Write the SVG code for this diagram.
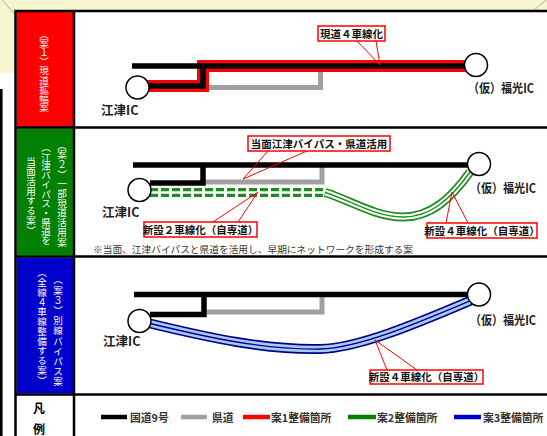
<svg xmlns="http://www.w3.org/2000/svg" width="547" height="436" viewBox="0 0 547 436">
<defs>
<style>
.jp{font-family:"Noto Sans CJK JP","Liberation Sans",sans-serif}
.vt{font-family:"Noto Sans CJK JP",sans-serif;font-size:9.6px;fill:#fff;writing-mode:vertical-rl}
.ic{font-family:"Noto Sans CJK JP","Liberation Sans",sans-serif;font-size:12.5px;font-weight:bold;fill:#222}
.co{font-family:"Noto Sans CJK JP",sans-serif;font-size:10.5px;font-weight:bold;fill:#111}
.box{fill:#fff;stroke:#ff0000;stroke-width:1.5}
.ptr{stroke:#ff0000;stroke-width:1;fill:none}
.blk{stroke:#000;stroke-width:5.5;fill:none}
.gry{stroke:#a0a0a0;stroke-width:5;fill:none}
.nd{fill:#fff;stroke:#000;stroke-width:1.5}
.grid{stroke:#000;stroke-width:2.5;fill:none}
.lg{font-family:"Noto Sans CJK JP",sans-serif;font-size:10.8px;font-weight:bold;fill:#333}
</style>
</defs>
<rect x="0" y="0" width="547" height="436" fill="#fff"/>
<rect x="0" y="0" width="547" height="11" fill="#f6f6d0"/>
<rect x="0" y="0" width="15" height="73" fill="#f6f6d0"/>
<path d="M2,0 L15,14 M533,11 L547,-1" stroke="#c4cfa0" stroke-width="1.2" fill="none"/>
<line x1="1.3" y1="89" x2="1.3" y2="436" stroke="#000" stroke-width="2.6"/>

<g id="table">
<rect x="16.5" y="12" width="56.5" height="115" fill="#ff0000"/>
<rect x="16.5" y="128.5" width="56.5" height="127" fill="#008000"/>
<rect x="16.5" y="257.5" width="56.5" height="136" fill="#0000cc"/>
<path class="grid" d="M15.5,436 V11 H560 M15.5,127.5 H560 M15.5,256.5 H560 M15.5,394.5 H560 M74,11 V436"/>
</g>

<g id="label1"><text class="vt" x="44" y="70.5" text-anchor="middle" letter-spacing="-0.4">︵案１︶現道拡幅案</text></g>
<g id="label2">
<text class="vt" x="62" y="193.5" text-anchor="middle" letter-spacing="0.1">︵案２︶一部現道活用案</text>
<text class="vt" x="46" y="194" text-anchor="middle" letter-spacing="-0.3">︵江津バイパス・県道を</text>
<text class="vt" x="31" y="196" text-anchor="middle" letter-spacing="0.15">当面活用する案︶</text>
</g>
<g id="label3">
<text class="vt" x="58" y="331" text-anchor="middle" letter-spacing="0.6">︵案３︶別線バイパス案</text>
<text class="vt" x="42" y="326.5" text-anchor="middle" letter-spacing="0.15">︵全線４車線整備する案︶</text>
</g>

<g id="connectors">
<path class="gry" d="M206,87.5 H320.5 V67"/>
<path d="M145,86 H203 V66 H470" stroke="#ff0000" stroke-width="12" fill="none"/>
<path class="blk" d="M132,66 H470 M145,86 H203 V66"/>
<path class="gry" d="M205,182 H322 V166"/>
<path class="blk" d="M133,165 H470 M150,183 H203 V165"/>
<path d="M150,192.5 H325" stroke="#1e8c1e" stroke-width="9" stroke-dasharray="8 3" fill="none"/>
<path d="M150,192.5 H325" stroke="#fff" stroke-width="2.6" fill="none"/>
<path d="M325,192.5 C350,200 375,217 403,217 C430,217 450,200 470,172" stroke="#1e8c1e" stroke-width="9" fill="none"/>
<path d="M325,192.5 C350,200 375,217 403,217 C430,217 450,200 470,172" stroke="#fff" stroke-width="5.5" fill="none"/>
<path d="M325,192.5 C350,200 375,217 403,217 C430,217 450,200 470,172" stroke="#1e8c1e" stroke-width="1.4" fill="none"/>
<path class="gry" d="M207,312 H322 V296"/>
<path class="blk" d="M134,294.5 H470 M150,314.5 H204 V294.5"/>
<path d="M148,323 C210,338 265,350 320,349 C360,348 420,322 472,300" stroke="#00008b" stroke-width="10" fill="none"/>
<path d="M148,323 C210,338 265,350 320,349 C360,348 420,322 472,300" stroke="#a9c9ee" stroke-width="6.6" fill="none"/>
<path d="M148,323 C210,338 265,350 320,349 C360,348 420,322 472,300" stroke="#00008b" stroke-width="1.3" fill="none"/>
<path class="ptr" d="M357,41 L380,65 L376,41"/>
<path class="ptr" d="M268,151 L243,179 L307,151"/>
<path class="ptr" d="M213,222 L258,192 L238,222"/>
<path class="ptr" d="M446,223 L452,192 L468,223"/>
<path class="ptr" d="M387,370 L375,340 L417,370"/>
</g>

<g id="n-gotsu1"><circle class="nd" cx="137.5" cy="87.5" r="11.5"/><text class="ic" x="101" y="115">江津IC</text></g>
<g id="n-fukumitsu1"><circle class="nd" cx="476" cy="65" r="11.5"/><text class="ic" x="468" y="93" textLength="66" lengthAdjust="spacingAndGlyphs">（仮）福光IC</text></g>
<g id="n-gotsu2"><circle class="nd" cx="139.5" cy="190" r="11.5"/><text class="ic" x="102" y="217">江津IC</text></g>
<g id="n-fukumitsu2"><circle class="nd" cx="479" cy="164" r="11.5"/><text class="ic" x="470" y="193" textLength="66" lengthAdjust="spacingAndGlyphs">（仮）福光IC</text></g>
<g id="n-gotsu3"><circle class="nd" cx="139.5" cy="321" r="11.5"/><text class="ic" x="103" y="346">江津IC</text></g>
<g id="n-fukumitsu3"><circle class="nd" cx="479" cy="294.5" r="11.5"/><text class="ic" x="470" y="325" textLength="66" lengthAdjust="spacingAndGlyphs">（仮）福光IC</text></g>

<g id="c1"><rect class="box" x="318" y="26" width="67" height="15"/><text class="co" x="351.5" y="37.5" text-anchor="middle">現道４車線化</text></g>
<g id="c2"><rect class="box" x="248" y="136" width="142" height="15"/><text class="co" x="319" y="147.5" text-anchor="middle">当面江津バイパス・県道活用</text></g>
<g id="c3"><rect class="box" x="144" y="222" width="113" height="15"/><text class="co" x="200.5" y="233.5" text-anchor="middle">新設２車線化（自専道）</text></g>
<g id="c4"><rect class="box" x="427" y="223" width="110" height="15"/><text class="co" x="482" y="234.5" text-anchor="middle">新設４車線化（自専道）</text></g>
<g id="c5"><rect class="box" x="370" y="370" width="113" height="14"/><text class="co" x="426.5" y="381" text-anchor="middle">新設４車線化（自専道）</text></g>

<g id="note"><text class="jp" x="93" y="253" font-size="9.5" fill="#333" textLength="320" lengthAdjust="spacingAndGlyphs">※当面、江津バイパスと県道を活用し、早期にネットワークを形成する案</text></g>

<g id="legend">
<text class="jp" x="39" y="413" font-size="12" font-weight="bold" text-anchor="middle">凡</text>
<text class="jp" x="39" y="434" font-size="12" font-weight="bold" text-anchor="middle">例</text>
<line x1="101" y1="417" x2="127" y2="417" stroke="#000" stroke-width="4.5"/>
<text class="lg" x="130" y="421.5">国道9号</text>
<line x1="181" y1="417" x2="207" y2="417" stroke="#a0a0a0" stroke-width="4.5"/>
<text class="lg" x="212" y="421.5">県道</text>
<line x1="243" y1="417" x2="270" y2="417" stroke="#ff0000" stroke-width="4.5"/>
<text class="lg" x="271" y="421.5">案1整備箇所</text>
<line x1="348" y1="417" x2="376" y2="417" stroke="#008000" stroke-width="4.5"/>
<text class="lg" x="377" y="421.5">案2整備箇所</text>
<line x1="454" y1="417" x2="481" y2="417" stroke="#0000cc" stroke-width="4.5"/>
<text class="lg" x="483" y="421.5">案3整備箇所</text>
</g>
</svg>
